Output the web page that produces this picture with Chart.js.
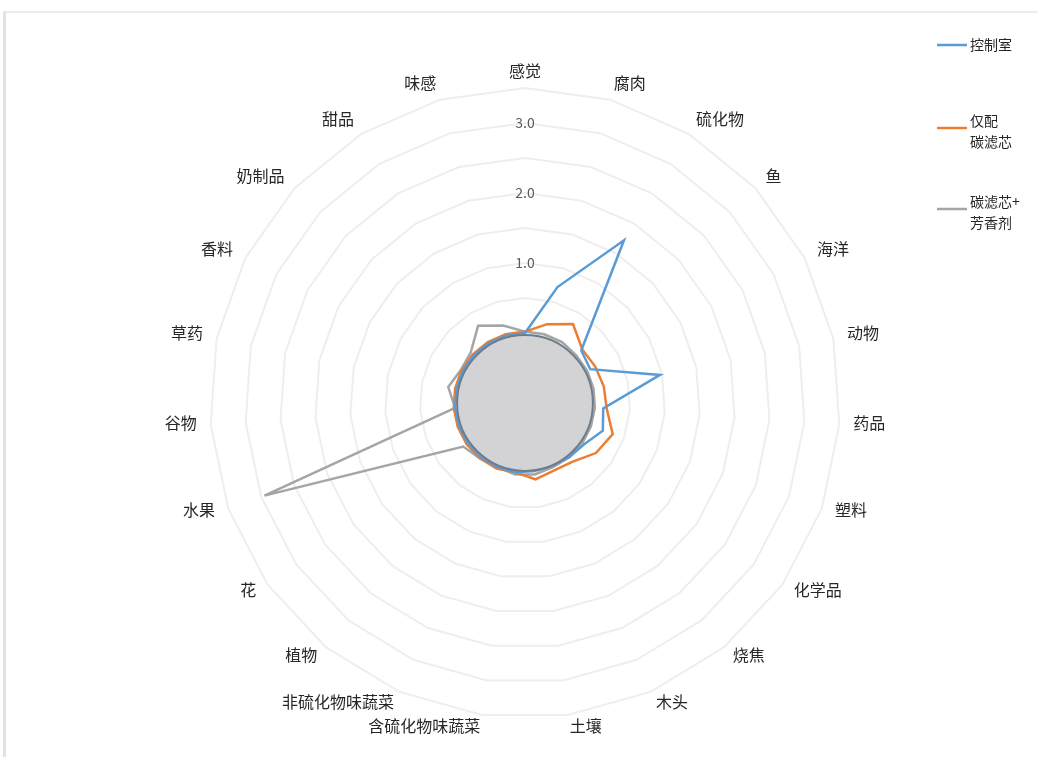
<!DOCTYPE html>
<html>
<head>
<meta charset="utf-8">
<script src="https://cdn.jsdelivr.net/npm/chart.js@4.4.1/dist/chart.umd.min.js"></script>
<style>
html,body{margin:0;padding:0;background:#fff;overflow:hidden}
#wrap{position:absolute;left:0;top:0;width:1037px;height:757px}
#frame{position:absolute;left:3px;top:11px;width:1060px;height:780px;border-left:3px solid #e2e2e2;border-top:2px solid #ebebeb}
#c{position:absolute;left:0;top:0}
</style>
</head>
<body>
<div id="wrap"><div id="frame"></div><canvas id="c" width="1037" height="757"></canvas></div>
<script>
// ---- data ----
const CATEGORIES = ['感觉','腐肉','硫化物','鱼','海洋','动物','药品','塑料','化学品','烧焦','木头','土壤',
  '含硫化物味蔬菜','非硫化物味蔬菜','植物','花','水果','谷物','草药','香料','奶制品','甜品','味感'];
const SERIES_NAMES = ['控制室', '仅配\n碳滤芯', '碳滤芯+\n芳香剂'];
const SERIES_COLORS = ['#5b9bd5', '#ed7d31', '#a5a5a5'];
const CONTROL      = [0.00, 0.72, 1.72, 0.10, 0.05, 0.97, 0.12, 0.18, 0.03, 0.00, -0.02, -0.02,
                      0.00, 0.00, 0.00, 0.00, 0.00, 0.00, 0.00, 0.00, 0.00, 0.00, 0.00];
const CARBON       = [0.02, 0.17, 0.32, 0.12, 0.13, 0.15, 0.17, 0.33, 0.24, 0.08, 0.05, 0.10,
                      0.00, 0.02, 0.02, 0.02, 0.02, 0.02, 0.02, 0.02, 0.02, 0.02, 0.02];
const CARBON_AROMA = [0.02, 0.02, 0.02, 0.00, 0.00, 0.00, 0.00, 0.00, 0.00, 0.00, 0.00, 0.03,
                      0.03, 0.00, 0.02, 0.08, 2.95, 0.00, 0.12, 0.03, 0.06, 0.29, 0.15];
const TICK_LABEL_VALUES = [1, 2, 3];
const SCALE_MIN = -1, SCALE_MAX = 3.5, SCALE_STEP = 0.5;
const MASK_VALUE = -0.03;   // grey disc covering the centre

// ---- layout ----
const CX = 525, CY = 403, RADIUS = 315;
const LABEL_RX = 329, LABEL_RY = 329, LABEL_DY = -3;
const FONT = '"Noto Sans CJK SC", "Noto Sans", sans-serif';

const centerMask = {
  id: 'centerMask',
  afterDatasetsDraw(chart) {
    const s = chart.scales.r, ctx = chart.ctx;
    const r = s.getDistanceFromCenterForValue(MASK_VALUE);
    ctx.save();
    ctx.beginPath();
    ctx.arc(s.xCenter, s.yCenter, r, 0, Math.PI * 2);
    ctx.fillStyle = 'rgba(206,206,208,0.9)';
    ctx.fill();
    ctx.lineWidth = 2;
    ctx.strokeStyle = '#6e7c8c';
    ctx.stroke();
    ctx.restore();
  }
};

const categoryLabels = {
  id: 'categoryLabels',
  afterDraw(chart) {
    const s = chart.scales.r, ctx = chart.ctx;
    ctx.save();
    ctx.font = '16px ' + FONT;
    ctx.fillStyle = '#262626';
    ctx.textBaseline = 'middle';
    chart.data.labels.forEach((lab, i) => {
      const th = s.getIndexAngle(i);
      const sn = Math.sin(th), cs = Math.cos(th);
      const x = s.xCenter + sn * LABEL_RX;
      const y = s.yCenter + LABEL_DY - cs * LABEL_RY;
      ctx.textAlign = Math.abs(sn) < 1e-3 ? 'center' : (sn > 0 ? 'left' : 'right');
      ctx.fillText(lab, x, y);
    });
    ctx.restore();
  }
};

const sideLegend = {
  id: 'sideLegend',
  afterDraw(chart) {
    const ctx = chart.ctx;
    const tops = [45, 121, 202];
    const lineH = 21;
    ctx.save();
    ctx.font = '14px ' + FONT;
    ctx.textBaseline = 'middle';
    ctx.textAlign = 'left';
    chart.data.datasets.forEach((ds, i) => {
      const lines = ds.label.split('\n');
      const y0 = tops[i];
      const sy = lines.length > 1 ? y0 + 7 : y0;
      ctx.strokeStyle = ds.borderColor;
      ctx.lineWidth = 2.5;
      ctx.beginPath();
      ctx.moveTo(937, sy); ctx.lineTo(967, sy);
      ctx.stroke();
      ctx.fillStyle = '#262626';
      lines.forEach((t, k) => ctx.fillText(t, 970, y0 + k * lineH));
    });
    ctx.restore();
  }
};

const series = [CONTROL, CARBON, CARBON_AROMA];
new Chart(document.getElementById('c'), {
  type: 'radar',
  data: {
    labels: CATEGORIES,
    datasets: series.map((d, i) => ({
      label: SERIES_NAMES[i],
      data: d,
      borderColor: SERIES_COLORS[i],
      backgroundColor: SERIES_COLORS[i],
      borderWidth: 2.5,
      fill: false,
      pointRadius: 0,
      tension: 0
    }))
  },
  options: {
    responsive: false,
    animation: false,
    devicePixelRatio: 1,
    layout: { padding: 0 },
    plugins: { legend: { display: false }, tooltip: { enabled: false } },
    scales: {
      r: {
        min: SCALE_MIN,
        max: SCALE_MAX,
        beginAtZero: false,
        angleLines: { display: false },
        grid: { color: '#eeeeee', lineWidth: 2, circular: false },
        ticks: {
          stepSize: SCALE_STEP,
          showLabelBackdrop: false,
          backdropPadding: 0,
          color: '#595959',
          font: { size: 14, family: FONT },
          callback: (v) => TICK_LABEL_VALUES.some(t => Math.abs(t - v) < 1e-6) ? Number(v).toFixed(1) : ''
        },
        pointLabels: { display: false },
        afterFit(scale) {
          scale.xCenter = CX;
          scale.yCenter = CY;
          scale.drawingArea = RADIUS;
        }
      }
    }
  },
  plugins: [centerMask, categoryLabels, sideLegend]
});
</script>
</body>
</html>
